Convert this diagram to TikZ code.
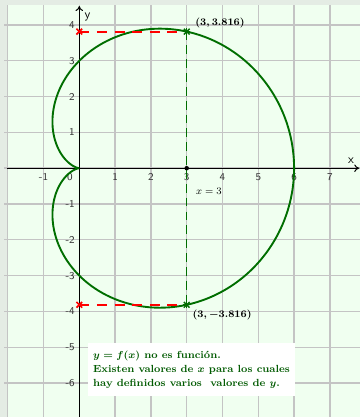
\documentclass[tikz,border=0pt]{standalone}
\usepackage{tikz}
\usetikzlibrary{arrows.meta}
\definecolor{bgc}{HTML}{F0FFF0}
\definecolor{stripc}{HTML}{E4ECE4}
\definecolor{gridc}{HTML}{C4C4C4}
\definecolor{curvec}{HTML}{006E00}
\definecolor{textg}{HTML}{005A00}
\definecolor{tickc}{HTML}{333333}
\definecolor{redc}{HTML}{FF0000}
\tikzset{
  gridline/.style={gridc, line width=1.1pt},
  axisline/.style={black, line width=0.8pt, -{To[length=4pt,width=6pt]}},
  ticklab/.style={tickc, font=\sffamily\fontsize{8.3}{9}\selectfont, inner sep=0pt},
  axlab/.style={black, font=\sffamily\fontsize{10}{11}\selectfont, inner sep=0pt},
  reddash/.style={draw=redc, line width=1.6pt, dash pattern=on 8pt off 6pt},
  greendash/.style={draw=curvec, line width=1pt, dash pattern=on 7pt off 4pt},
  ptlab/.style={black, font=\fontsize{8}{10}\selectfont\bfseries\boldmath, inner sep=1pt},
  infobox/.style={fill=white, draw=none, text=textg, align=left, inner xsep=4pt, inner ysep=4pt,
    font=\fontsize{8.2}{11}\selectfont\bfseries\boldmath}
}
\begin{document}
\begin{tikzpicture}
\useasboundingbox (-2.215,-6.95) rectangle (7.841,4.698);
% background
\fill[bgc] (-2.215,-6.95) rectangle (7.841,4.698);
\fill[stripc] (-2.215,-6.95) rectangle (-2.02,4.698);
\fill[stripc] (-2.215,4.56) rectangle (7.841,4.698);
% grid
\foreach \i in {-2,...,7} \draw[gridline] (\i,-6.95) -- (\i,4.56);
\foreach \j in {-6,...,4} \draw[gridline] (-2.1,\j) -- (7.841,\j);
% axes
\coordinate (xs) at (-2.02,0);
\coordinate (xe) at (7.82,0);
\coordinate (ys) at (0,-6.95);
\coordinate (ye) at (0,4.53);
\draw[axisline] (xs) -- (xe);
\draw[axisline] (ys) -- (ye);
\node[axlab] (xl) at (7.59,0.22) {x};
\node[axlab] (yl) at (0.23,4.22) {y};
% tick labels
\foreach \i in {-1,1,2,3,4,5,6,7} \node[ticklab] (tx\i) at (\i,-0.25) {\i};
\node[ticklab] (tx0) at (-0.26,-0.25) {0};
\foreach \j in {-6,-5,-4,-3,-2,-1,1,2,3,4} \node[ticklab, anchor=east] (ty\j) at (-0.12,\j) {\j};
% points
\coordinate (P) at (3,3.816);
\coordinate (Q) at (3,-3.816);
\coordinate (A) at (0,3.816);
\coordinate (B) at (0,-3.816);
\coordinate (X3) at (3,0);
% cardioid
\draw[curvec, line width=1.5pt, smooth, domain=0:360, samples=241, variable=\t]
  plot ({3*(1+cos(\t))*cos(\t)},{3*(1+cos(\t))*sin(\t)});
% dashed lines
\path[greendash] (P) -- (Q);
\path[reddash] (A) -- (P);
\path[reddash] (B) -- (Q);
% marks
\foreach \p in {A,B} {
  \draw[redc, line width=1.3pt] ([shift={(-0.08,-0.08)}]\p) -- ([shift={(0.08,0.08)}]\p);
  \draw[redc, line width=1.3pt] ([shift={(-0.08,0.08)}]\p) -- ([shift={(0.08,-0.08)}]\p);
}
\foreach \p in {P,Q} {
  \draw[curvec, line width=1.1pt] ([shift={(-0.08,-0.08)}]\p) -- ([shift={(0.08,0.08)}]\p);
  \draw[curvec, line width=1.1pt] ([shift={(-0.08,0.08)}]\p) -- ([shift={(0.08,-0.08)}]\p);
  \draw[curvec, line width=1.1pt] ([shift={(-0.1,0)}]\p) -- ([shift={(0.1,0)}]\p);
  \draw[curvec, line width=1.1pt] ([shift={(0,-0.1)}]\p) -- ([shift={(0,0.1)}]\p);
}
\fill[black] (X3) circle (1.8pt);
% labels
\node[ptlab] (lp) at (3.93,4.05) {$(3,3.816)$};
\node[ptlab] (lq) at (3.99,-4.1) {$(3,-3.816)$};
\node[black, font=\fontsize{8}{10}\selectfont, inner sep=1pt] (lx) at (3.62,-0.64) {$x=3$};
% info box
\node[infobox, anchor=north west, minimum width=5.53cm, minimum height=1.48cm] (box) at (0.24,-4.88)
  {$y=f(x)$ no es función.\\Existen valores de $x$ para los cuales\\hay definidos varios\ \ valores de $y$.};
\end{tikzpicture}
\end{document}
